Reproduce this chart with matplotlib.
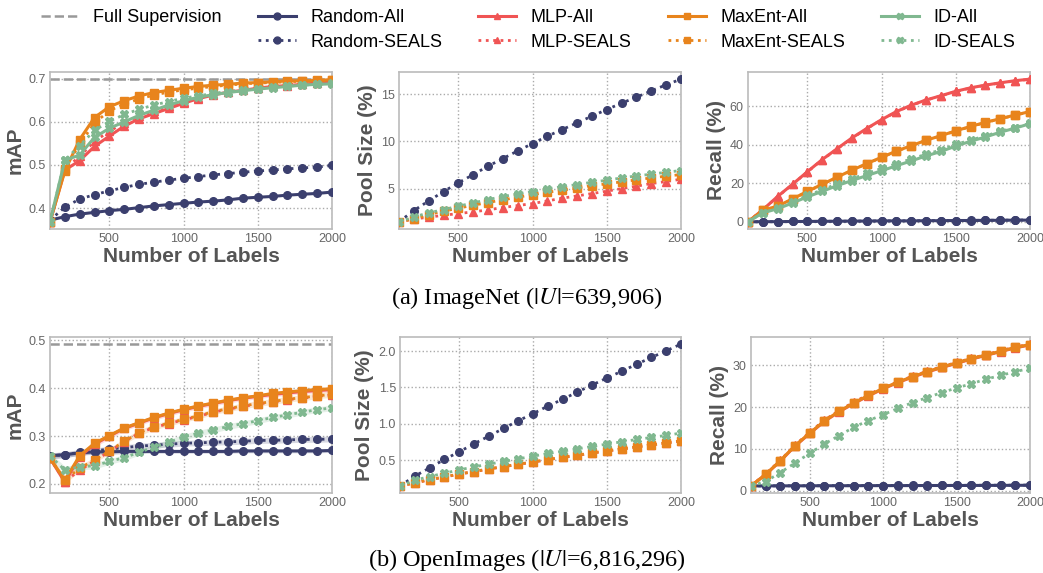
import matplotlib
matplotlib.use("Agg")
import matplotlib.pyplot as plt
from matplotlib.lines import Line2D

plt.rcParams['font.family'] = ['Liberation Sans', 'DejaVu Sans']
plt.rcParams['mathtext.fontset'] = 'stix'

# number of labelled examples
n_labels = [100, 200, 300, 400, 500, 600, 700, 800, 900, 1000,
            1100, 1200, 1300, 1400, 1500, 1600, 1700, 1800, 1900, 2000]

# ---- ImageNet ----
in_full_sup = 0.699
in_map = {
    'Random-All':   [0.372, 0.380, 0.386, 0.390, 0.394, 0.397, 0.401, 0.405, 0.408, 0.411,
                     0.414, 0.416, 0.419, 0.423, 0.425, 0.427, 0.430, 0.432, 0.434, 0.437],
    'Random-SEALS': [0.372, 0.402, 0.421, 0.431, 0.440, 0.448, 0.455, 0.460, 0.465, 0.469,
                     0.473, 0.477, 0.480, 0.483, 0.486, 0.488, 0.491, 0.493, 0.495, 0.499],
    'MLP-All':      [0.368, 0.488, 0.510, 0.543, 0.567, 0.590, 0.607, 0.619, 0.631, 0.643,
                     0.654, 0.662, 0.669, 0.673, 0.678, 0.682, 0.684, 0.687, 0.690, 0.692],
    'MLP-SEALS':    [0.368, 0.490, 0.520, 0.555, 0.578, 0.598, 0.613, 0.625, 0.636, 0.647,
                     0.656, 0.664, 0.670, 0.675, 0.679, 0.683, 0.686, 0.688, 0.691, 0.693],
    'MaxEnt-All':   [0.368, 0.486, 0.559, 0.610, 0.635, 0.649, 0.660, 0.668, 0.673, 0.678,
                     0.682, 0.685, 0.687, 0.690, 0.691, 0.693, 0.695, 0.695, 0.696, 0.698],
    'MaxEnt-SEALS': [0.368, 0.490, 0.549, 0.597, 0.626, 0.641, 0.653, 0.662, 0.669, 0.674,
                     0.678, 0.682, 0.685, 0.688, 0.690, 0.691, 0.693, 0.694, 0.695, 0.696],
    'ID-All':       [0.368, 0.511, 0.523, 0.564, 0.585, 0.600, 0.615, 0.627, 0.639, 0.649,
                     0.657, 0.663, 0.668, 0.672, 0.676, 0.679, 0.682, 0.685, 0.687, 0.688],
    'ID-SEALS':     [0.368, 0.511, 0.545, 0.580, 0.601, 0.617, 0.629, 0.639, 0.647, 0.655,
                     0.660, 0.666, 0.670, 0.674, 0.677, 0.680, 0.683, 0.685, 0.687, 0.689],
}
in_pool = {
    'Random-SEALS': [1.47, 2.67, 3.69, 4.68, 5.60, 6.48, 7.37, 8.18, 8.99, 9.77,
                     10.55, 11.25, 11.96, 12.67, 13.37, 14.05, 14.68, 15.35, 15.99, 16.59],
    'MLP-SEALS':    [1.47, 1.78, 1.96, 2.17, 2.35, 2.53, 2.74, 2.99, 3.20, 3.41,
                     3.69, 3.98, 4.22, 4.47, 4.72, 5.00, 5.25, 5.53, 5.74, 5.99],
    'MaxEnt-SEALS': [1.47, 1.78, 2.24, 2.60, 2.92, 3.23, 3.52, 3.80, 4.08, 4.36,
                     4.61, 4.82, 5.07, 5.32, 5.49, 5.71, 5.92, 6.13, 6.31, 6.48],
    'ID-SEALS':     [1.47, 2.00, 2.42, 2.77, 3.13, 3.48, 3.83, 4.15, 4.43, 4.68,
                     4.96, 5.21, 5.42, 5.67, 5.88, 6.13, 6.34, 6.52, 6.73, 6.91],
}
in_recall = {
    'Random-All':   [0.0, 0.1, 0.1, 0.2, 0.2, 0.3, 0.3, 0.4, 0.4, 0.5,
                     0.5, 0.5, 0.6, 0.6, 0.7, 0.7, 0.8, 0.8, 0.9, 0.9],
    'Random-SEALS': [0.0, 0.1, 0.1, 0.2, 0.2, 0.3, 0.3, 0.4, 0.4, 0.5,
                     0.5, 0.6, 0.6, 0.7, 0.7, 0.8, 0.8, 0.9, 0.9, 1.0],
    'MLP-All':      [0.0, 6.3, 13.2, 19.5, 26.0, 32.3, 37.9, 43.5, 48.4, 53.0,
                     57.2, 60.5, 63.2, 65.4, 67.7, 69.5, 70.9, 72.1, 73.2, 74.0],
    'MLP-SEALS':    [0.0, 6.3, 13.1, 19.4, 25.9, 32.2, 37.8, 43.4, 48.3, 52.9,
                     57.1, 60.4, 63.1, 65.3, 67.6, 69.4, 70.8, 72.0, 73.1, 73.9],
    'MaxEnt-All':   [0.0, 6.0, 8.2, 11.9, 15.8, 19.5, 23.2, 26.8, 30.2, 33.5,
                     36.7, 39.5, 42.3, 44.7, 47.2, 49.5, 51.6, 53.5, 55.4, 57.2],
    'MaxEnt-SEALS': [0.0, 6.0, 8.1, 11.8, 15.7, 19.4, 23.1, 26.7, 30.1, 33.4,
                     36.6, 39.4, 42.2, 44.6, 47.1, 49.4, 51.5, 53.4, 55.3, 57.1],
    'ID-All':       [0.0, 4.7, 6.8, 9.8, 13.0, 15.8, 18.8, 21.4, 24.0, 26.5,
                     29.1, 31.6, 34.2, 36.5, 39.3, 41.8, 44.0, 46.5, 48.6, 50.9],
    'ID-SEALS':     [0.0, 4.8, 7.1, 10.4, 13.7, 16.6, 19.7, 22.3, 25.1, 27.7,
                     30.2, 32.6, 35.1, 37.3, 40.2, 42.4, 44.6, 46.9, 48.9, 51.1],
}

# ---- OpenImages ----
oi_full_sup = 0.492
oi_map = {
    'Random-All':   [0.259, 0.261, 0.265, 0.267, 0.267, 0.268, 0.268, 0.268, 0.268, 0.268,
                     0.268, 0.268, 0.268, 0.269, 0.269, 0.269, 0.269, 0.269, 0.269, 0.270],
    'Random-SEALS': [0.259, 0.261, 0.266, 0.269, 0.273, 0.276, 0.279, 0.281, 0.283, 0.285,
                     0.286, 0.287, 0.288, 0.289, 0.291, 0.291, 0.292, 0.293, 0.293, 0.294],
    'MLP-All':      [0.254, 0.204, 0.257, 0.283, 0.300, 0.316, 0.327, 0.338, 0.347, 0.355,
                     0.362, 0.368, 0.374, 0.379, 0.383, 0.387, 0.390, 0.393, 0.395, 0.397],
    'MLP-SEALS':    [0.254, 0.205, 0.229, 0.248, 0.268, 0.288, 0.306, 0.318, 0.326, 0.334,
                     0.341, 0.350, 0.356, 0.362, 0.367, 0.371, 0.376, 0.379, 0.383, 0.386],
    'MaxEnt-All':   [0.254, 0.208, 0.259, 0.285, 0.301, 0.317, 0.328, 0.339, 0.348, 0.356,
                     0.363, 0.369, 0.375, 0.380, 0.384, 0.389, 0.392, 0.395, 0.397, 0.399],
    'MaxEnt-SEALS': [0.254, 0.208, 0.233, 0.250, 0.269, 0.289, 0.307, 0.319, 0.327, 0.335,
                     0.342, 0.351, 0.357, 0.363, 0.368, 0.372, 0.377, 0.380, 0.384, 0.387],
    'ID-SEALS':     [0.259, 0.229, 0.236, 0.238, 0.247, 0.255, 0.266, 0.277, 0.287, 0.298,
                     0.306, 0.313, 0.320, 0.326, 0.332, 0.339, 0.344, 0.350, 0.355, 0.359],
}
# spread across runs (std) for the OpenImages mAP curves
oi_map_std = {
    'Random-All':   [0.006, 0.006, 0.005, 0.005, 0.005, 0.005, 0.004, 0.004, 0.004, 0.004,
                     0.004, 0.004, 0.004, 0.004, 0.004, 0.004, 0.004, 0.004, 0.004, 0.004],
    'Random-SEALS': [0.006, 0.006, 0.006, 0.006, 0.006, 0.006, 0.006, 0.006, 0.006, 0.006,
                     0.006, 0.006, 0.006, 0.006, 0.006, 0.006, 0.006, 0.006, 0.006, 0.006],
    'MLP-All':      [0.006, 0.008, 0.006, 0.006, 0.006, 0.005, 0.005, 0.005, 0.005, 0.005,
                     0.005, 0.005, 0.005, 0.005, 0.005, 0.005, 0.005, 0.005, 0.005, 0.005],
    'MaxEnt-SEALS': [0.006, 0.008, 0.006, 0.006, 0.006, 0.006, 0.006, 0.006, 0.006, 0.006,
                     0.006, 0.006, 0.006, 0.006, 0.006, 0.006, 0.006, 0.006, 0.006, 0.006],
    'ID-SEALS':     [0.006, 0.008, 0.006, 0.007, 0.006, 0.006, 0.006, 0.006, 0.006, 0.006,
                     0.006, 0.006, 0.006, 0.006, 0.006, 0.006, 0.006, 0.006, 0.006, 0.006],
}
oi_pool = {
    'Random-SEALS': [0.146, 0.28, 0.394, 0.51, 0.615, 0.725, 0.83, 0.937, 1.043, 1.14,
                     1.245, 1.337, 1.439, 1.535, 1.632, 1.724, 1.82, 1.913, 2.005, 2.097],
    'MLP-SEALS':    [0.146, 0.185, 0.230, 0.267, 0.308, 0.341, 0.377, 0.410, 0.442, 0.474,
                     0.506, 0.538, 0.566, 0.598, 0.626, 0.653, 0.681, 0.709, 0.736, 0.764],
    'MaxEnt-SEALS': [0.146, 0.187, 0.233, 0.270, 0.311, 0.344, 0.380, 0.413, 0.445, 0.477,
                     0.509, 0.541, 0.569, 0.601, 0.629, 0.656, 0.684, 0.712, 0.739, 0.767],
    'ID-SEALS':     [0.146, 0.224, 0.275, 0.320, 0.366, 0.408, 0.445, 0.482, 0.518, 0.555,
                     0.592, 0.624, 0.656, 0.689, 0.721, 0.753, 0.785, 0.813, 0.841, 0.873],
}
oi_recall = {
    'Random-All':   [1.15, 1.15, 1.16, 1.17, 1.18, 1.19, 1.19, 1.20, 1.21, 1.22,
                     1.22, 1.23, 1.24, 1.25, 1.25, 1.26, 1.27, 1.28, 1.29, 1.30],
    'Random-SEALS': [1.15, 1.16, 1.17, 1.18, 1.19, 1.20, 1.21, 1.22, 1.23, 1.24,
                     1.25, 1.26, 1.27, 1.28, 1.29, 1.30, 1.31, 1.32, 1.33, 1.35],
    'MLP-All':      [1.15, 3.9, 7.1, 10.7, 13.7, 16.6, 18.9, 20.9, 22.7, 24.4,
                     25.9, 27.2, 28.4, 29.5, 30.5, 31.5, 32.4, 33.3, 34.2, 34.9],
    'MLP-SEALS':    [1.15, 4.0, 7.3, 10.9, 14.0, 16.9, 19.2, 21.2, 23.0, 24.7,
                     26.1, 27.4, 28.6, 29.7, 30.7, 31.7, 32.6, 33.5, 34.4, 35.1],
    'MaxEnt-All':   [1.15, 3.9, 7.2, 10.8, 13.8, 16.7, 19.0, 21.0, 22.8, 24.5,
                     26.0, 27.3, 28.5, 29.6, 30.6, 31.6, 32.5, 33.4, 34.3, 35.0],
    'MaxEnt-SEALS': [1.15, 3.9, 7.2, 10.8, 13.9, 16.8, 19.1, 21.1, 22.9, 24.6,
                     26.0, 27.3, 28.5, 29.6, 30.6, 31.6, 32.5, 33.4, 34.3, 35.0],
    'ID-SEALS':     [1.15, 2.2, 4.35, 6.65, 8.96, 11.2, 13.2, 15.2, 16.8, 18.2,
                     19.7, 21.1, 22.3, 23.5, 24.6, 25.6, 26.7, 27.6, 28.5, 29.3],
}

colors = {'Random': '#3b3f6e', 'MLP': '#f05454', 'MaxEnt': '#e8841c', 'ID': '#80b890'}
markers = {'Random': 'o', 'MLP': '^', 'MaxEnt': 's', 'ID': 'X'}
order = ['Random-All', 'Random-SEALS', 'MLP-All', 'MLP-SEALS',
         'MaxEnt-All', 'MaxEnt-SEALS', 'ID-All', 'ID-SEALS']

label_color = '#555555'
tick_color = '#666666'


def style_for(name):
    method, kind = name.split('-')
    ls = '-' if kind == 'All' else ':'
    return dict(color=colors[method], marker=markers[method], linestyle=ls,
                linewidth=2.2 if kind == 'All' else 2.0, markersize=5.5)


def draw_panel(ax, data, ylabel, full_sup=None, spread=None):
    if full_sup is not None:
        ax.plot([n_labels[0], n_labels[-1]], [full_sup, full_sup], '--',
                color='#999999', linewidth=1.8, zorder=1)
    for name in order:
        if name not in data:
            continue
        if spread and name in spread:
            method = name.split('-')[0]
            lo = [m - s for m, s in zip(data[name], spread[name])]
            hi = [m + s for m, s in zip(data[name], spread[name])]
            ax.fill_between(n_labels, lo, hi, color=colors[method], alpha=0.2,
                            linewidth=0, zorder=2)
        ax.plot(n_labels, data[name], **style_for(name), zorder=3)
    ax.set_xlim(n_labels[0], n_labels[-1])
    ax.set_xticks([500, 1000, 1500, 2000])
    ax.set_xlabel('Number of Labels', fontsize=15, fontweight='bold',
                  color=label_color, labelpad=1)
    ax.set_ylabel(ylabel, fontsize=15, fontweight='bold', color=label_color, labelpad=3)
    ax.grid(True, linestyle=':', color='#aaaaaa', linewidth=1.0)
    ax.set_axisbelow(True)
    ax.tick_params(labelsize=9, colors=tick_color, length=0, pad=3)
    for sp in ax.spines.values():
        sp.set_color('#bbbbbb')
        sp.set_linewidth(1.2)


fig = plt.figure(figsize=(10.43, 5.73), dpi=100)
W, H = 1043.0, 573.0


def add_axes(left, top, right, bottom):
    return fig.add_axes([left / W, 1 - bottom / H, (right - left) / W, (bottom - top) / H])


top_row = [add_axes(50, 72, 332, 229), add_axes(399, 72, 681, 229), add_axes(748, 72, 1030, 229)]
bot_row = [add_axes(50, 337, 332, 493), add_axes(400, 337, 681, 493), add_axes(751, 337, 1030, 493)]

draw_panel(top_row[0], in_map, 'mAP', in_full_sup)
draw_panel(top_row[1], in_pool, 'Pool Size (%)')
draw_panel(top_row[2], in_recall, 'Recall (%)')
draw_panel(bot_row[0], oi_map, 'mAP', oi_full_sup, spread=oi_map_std)
draw_panel(bot_row[1], oi_pool, 'Pool Size (%)')
draw_panel(bot_row[2], oi_recall, 'Recall (%)')

top_row[1].set_yticks([5, 10, 15])
top_row[2].set_yticks([0, 20, 40, 60])
bot_row[0].set_yticks([0.2, 0.3, 0.4, 0.5])
bot_row[1].set_yticks([0.5, 1.0, 1.5, 2.0])
bot_row[2].set_yticks([0, 10, 20, 30])

# legend: two rows, methods in columns
handles = [Line2D([], [], color='#999999', linestyle='--', linewidth=1.8),
           Line2D([], [], linestyle='none')]
labels = ['Full Supervision', '']
for name in order:
    st = style_for(name)
    st['markersize'] = 5
    handles.append(Line2D([], [], **st))
    labels.append(name)
fig.legend(handles, labels, ncol=5, loc='upper left', bbox_to_anchor=(32 / W, 1.0),
           frameon=False, fontsize=13, handlelength=2.1, handletextpad=0.8,
           columnspacing=2.0, labelspacing=0.42, borderaxespad=0.1)

fig.text(0.505, 1 - 298 / H, r'(a) ImageNet ($|U|$=639,906)', ha='center', va='center',
         fontsize=17.5, family='Liberation Serif')
fig.text(0.505, 1 - 560 / H, r'(b) OpenImages ($|U|$=6,816,296)', ha='center', va='center',
         fontsize=17.5, family='Liberation Serif')

fig.savefig('out.png', dpi=100)
